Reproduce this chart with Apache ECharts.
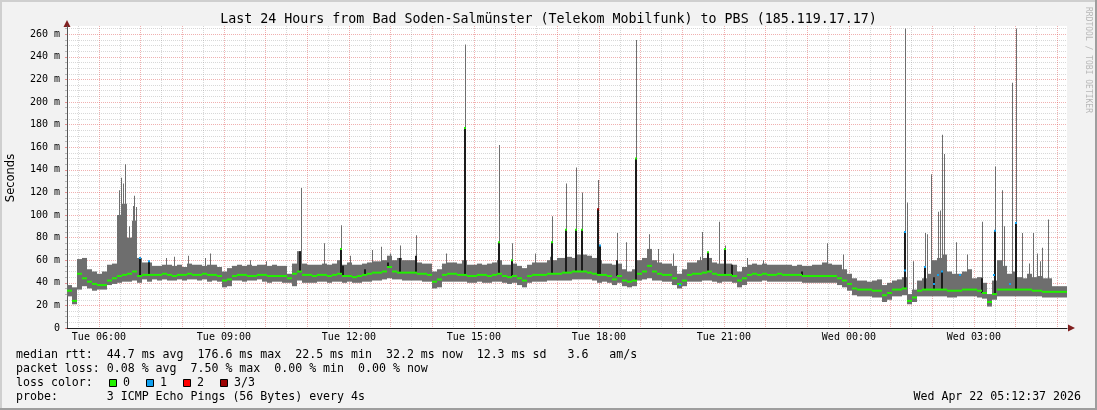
<!DOCTYPE html>
<html><head><meta charset="utf-8">
<script src="https://cdn.jsdelivr.net/npm/echarts@6/dist/echarts.min.js"></script>
<style>html,body{margin:0;padding:0;background:#f2f2f2}#c{width:1097px;height:410px}</style>
</head><body><div id="c"></div>
<script>
const chartTitle = 'Last 24 Hours from Bad Soden-Salmünster (Telekom Mobilfunk) to PBS (185.119.17.17)';
const yAxisName = 'Seconds';
const watermark = 'RRDTOOL / TOBI OETIKER';
// time is in minutes since Tue 00:00
const startMinute = 314;
const endMinute = 1754;
const stepMinutes = 7.2;
const xLabelMinutes = [360, 540, 720, 900, 1080, 1260, 1440, 1620];
const xLabels = ['Tue 06:00','Tue 09:00','Tue 12:00','Tue 15:00','Tue 18:00','Tue 21:00','Wed 00:00','Wed 03:00'];
const hourLines = [360,420,480,540,600,660,720,780,840,900,960,1020,1080,1140,1200,1260,1320,1380,1440,1500,1560,1620,1680,1740];
const halfHourLines = [330,390,450,510,570,630,690,750,810,870,930,990,1050,1110,1170,1230,1290,1350,1410,1470,1530,1590,1650,1710];
const yTickValues = [0,20,40,60,80,100,120,140,160,180,200,220,240,260];
const yTickLabels = ['0','20 m','40 m','60 m','80 m','100 m','120 m','140 m','160 m','180 m','200 m','220 m','240 m','260 m'];
const yMinorValues = [5,10,15,25,30,35,45,50,55,65,70,75,85,90,95,105,110,115,125,130,135,145,150,155,165,170,175,185,190,195,205,210,215,225,230,235,245,250,255,265];

// smoke (ms): lower edge, upper edge, median per 7.2-minute column
const smokeLow = [
28,21,34,37,35,33,34,34,38,39, 40,41,41,42,40,43,41,43,42,43,
42,42,43,42,43,43,42,43,41,42, 41,36,37,42,42,41,42,42,43,41,
40,41,41,40,40,37,42,40,40,40, 41,41,40,41,41,40,41,40,40,41,
41,42,42,43,44,43,43,42,42,42, 42,41,41,35,36,41,41,41,41,41,
40,40,41,40,40,41,41,40,39,40, 38,36,40,41,41,41,42,42,42,42,
42,43,43,43,43,42,40,41,40,38, 40,37,36,37,42,43,44,42,42,41,
41,38,35,37,41,41,41,42,42,41, 40,41,41,40,36,38,41,41,41,42,
41,41,41,41,41,41,41,40,40,40, 40,40,40,40,38,36,33,29,28,28,
28,27,27,23,25,28,28,29,21,23, 28,28,28,28,28,28,27,27,28,28,
28,28,27,26,19,25,28,28,28,28, 28,28,28,28,28,27,27,27,27,27];
const smokeHigh = [
38,36,61,62,52,50,48,50,56,57, 100,110,80,95,62,58,58,55,55,56,
56,55,56,54,57,56,56,55,56,56, 54,50,53,55,56,55,56,55,56,56,
55,56,55,55,48,57,68,57,56,56, 56,57,56,57,60,56,58,56,56,57,
58,59,59,60,64,60,62,60,60,60, 58,57,57,50,52,57,58,58,57,60,
56,56,57,56,57,58,60,56,56,57, 55,53,56,58,58,58,60,60,62,62,
63,62,65,65,64,62,60,57,57,56, 57,52,50,52,60,62,70,60,58,57,
57,55,48,52,58,58,60,62,62,58, 57,57,57,56,50,54,56,57,56,57,
56,56,56,56,56,55,56,55,55,56, 56,58,57,56,56,52,48,44,42,42,
41,42,43,38,40,42,43,45,30,34, 42,44,48,60,62,65,50,48,48,50,
52,44,45,40,30,42,60,55,48,50, 45,44,48,45,46,44,44,37,37,37];
const median = [
33,24,48,44,41,39,38,38,42,44, 46,47,48,50,46,47,47,47,47,48,
47,46,47,47,48,47,47,48,47,47, 46,42,43,46,47,47,46,46,47,47,
46,46,46,46,44,48,50,47,47,46, 47,47,46,47,48,46,46,45,46,47,
48,49,49,50,54,50,49,49,49,49, 48,48,47,41,43,47,48,48,47,47,
46,46,47,47,46,47,48,46,45,46, 44,42,46,47,47,47,48,48,48,49,
49,50,50,50,49,48,47,47,46,43, 46,42,41,42,48,50,55,50,48,47,
47,44,39,42,47,48,48,49,50,48, 47,47,47,46,42,44,47,48,47,48,
47,47,48,47,47,47,47,46,46,46, 46,46,46,46,44,42,39,35,34,34,
34,33,33,29,31,34,34,35,24,27, 33,34,34,34,34,34,33,33,33,34,
34,34,33,31,23,30,34,34,34,34, 34,34,34,33,33,32,32,32,32,32];
// thin single-column spikes: [minute, top ms]
const spikes = [[389,122],[392,133],[395,128],[398,145],[403,90],[409,108],[410,117],[413,107],[457,62],[468,63],[488,64],[513,62],[520,66],[578,60],[601,59],[651,124],[684,75],[709,91],[721,64],[753,69],[766,72],[779,66],[794,73],[817,82],[860,66],[887,251],[936,162],[955,75],[988,66],[1010,63],[1012,99],[1033,128],[1047,142],[1056,120],[1079,131],[1106,84],[1119,76],[1133,255],[1152,83],[1165,70],[1187,66],[1225,63],[1229,85],[1253,94],[1261,73],[1293,62],[1316,60],[1408,75],[1431,65],[1521,265],[1524,111],[1532,59],[1550,84],[1553,83],[1558,136],[1568,103],[1571,104],[1574,171],[1577,154],[1594,76],[1610,65],[1632,94],[1650,143],[1660,122],[1663,90],[1675,217],[1681,265],[1689,84],[1699,57],[1705,84],[1711,66],[1715,59],[1718,71],[1727,96]];
// dark inner smoke columns: [minute, top ms]
const darkBars = [[419,62],[432,59],[650,68],[709,70],[711,55],[743,52],[776,58],[794,62],[817,64],[887,177],[936,76],[955,60],[1012,76],[1033,87],[1047,87],[1056,87],[1079,105],[1082,73],[1106,60],[1133,150],[1237,67],[1261,70],[1272,56],[1372,50],[1521,85],[1550,54],[1562,45],[1574,50],[1632,44],[1650,86],[1681,93]];
// median points coloured by loss: [minute, ms, loss class]
const lossMarks = [[419,62,1],[432,59,1],[709,70,0],[887,177,0],[936,76,0],[955,60,0],[1012,76,0],[1033,87,0],[1047,87,0],[1056,87,0],[1079,105,3],[1082,73,1],[1133,150,0],[1197,38,1],[1237,67,0],[1261,70,0],[1521,85,1],[1521,51,1],[1550,54,1],[1562,39,1],[1568,47,1],[1574,50,1],[1600,47,1],[1649,47,1],[1650,86,1],[1672,39,1],[1681,93,1]];
const lossColors = ['#22f000','#10a0f0','#ff0000','#9a0000'];
const lossNames = ['0','1','2','3/3'];
const statsLines = [
  'median rtt:  44.7 ms avg  176.6 ms max  22.5 ms min  32.2 ms now  12.3 ms sd   3.6   am/s',
  'packet loss: 0.08 % avg  7.50 % max  0.00 % min  0.00 % now',
  'loss color:',
  'probe:       3 ICMP Echo Pings (56 Bytes) every 4s'
];
const stamp = 'Wed Apr 22 05:12:37 2026';

const MONO = "'DejaVu Sans Mono', monospace";
const SMOKE = '#6e6e6e', DARK = '#1c1c1c';

function medianAt(t) {
  const i = Math.max(0, Math.min(median.length - 1, Math.floor((t - startMinute) / stepMinutes)));
  return median[i];
}
const smokeData = smokeLow.map((lo, i) => [startMinute + i * stepMinutes, lo, smokeHigh[i]]);
const medianData = median.map((m, i) => [startMinute + i * stepMinutes, m]);
const spikeData = spikes.map(([t, top]) => [t, medianAt(t), top]);
const darkData = darkBars.map(([t, top]) => [t, medianAt(t), top]);

const chart = echarts.init(document.getElementById('c'), null, {renderer: 'canvas', width: 1097, height: 410});

const legendY = [355, 369, 383, 397];
const graphics = [
  {type:'rect', shape:{x:0,y:0,width:1097,height:2}, style:{fill:'#cfcfcf'}, silent:true},
  {type:'rect', shape:{x:0,y:0,width:2,height:410}, style:{fill:'#cfcfcf'}, silent:true},
  {type:'rect', shape:{x:0,y:408,width:1097,height:2}, style:{fill:'#9e9e9e'}, silent:true},
  {type:'rect', shape:{x:1095,y:0,width:2,height:410}, style:{fill:'#9e9e9e'}, silent:true},
  {type:'text', x:548.5, y:20, silent:true, style:{text:chartTitle, fill:'#000', font:"13.3px " + MONO, textAlign:'center', textVerticalAlign:'middle', align:'center', verticalAlign:'middle'}},
  {type:'text', x:11, y:178, rotation:Math.PI/2, silent:true, style:{text:yAxisName, fill:'#000', font:"11.5px 'DejaVu Sans', sans-serif", textAlign:'center', textVerticalAlign:'middle', align:'center', verticalAlign:'middle'}},
  {type:'text', x:1088, y:60, rotation:-Math.PI/2, silent:true, style:{text:watermark, fill:'#b8b8b8', font:"8px " + MONO, textAlign:'center', textVerticalAlign:'middle', align:'center', verticalAlign:'middle'}},
  {type:'polygon', shape:{points:[[63.5,27],[70.5,27],[67,20]]}, style:{fill:'#801f1f'}, silent:true},
  {type:'polygon', shape:{points:[[1068,324.5],[1068,331.5],[1075,328]]}, style:{fill:'#801f1f'}, silent:true},
  {type:'text', x:1081, y:legendY[3], silent:true, style:{text:stamp, fill:'#000', font:"11.6px " + MONO, textAlign:'right', textVerticalAlign:'middle', align:'right', verticalAlign:'middle'}}
];
statsLines.forEach((s, i) => graphics.push({type:'text', x:16, y:legendY[i], silent:true,
  style:{text:s, fill:'#000', font:"11.6px " + MONO, textAlign:'left', textVerticalAlign:'middle', align:'left', verticalAlign:'middle'}}));
const boxX = [109, 146, 183, 220];
lossNames.forEach((n, i) => {
  graphics.push({type:'rect', shape:{x:boxX[i]+0.5, y:legendY[2]-3.5, width:7, height:7}, style:{fill:lossColors[i], stroke:'#000', lineWidth:1}, silent:true});
  graphics.push({type:'text', x:boxX[i]+14, y:legendY[2], silent:true, style:{text:n, fill:'#000', font:"11.6px " + MONO, textAlign:'left', textVerticalAlign:'middle', align:'left', verticalAlign:'middle'}});
});

function rectBetween(api, t0, t1, v0, v1, fill) {
  const a = api.coord([t0, v1]);
  const b = api.coord([t1, v0]);
  return {type:'rect', shape:{x:a[0], y:a[1], width:b[0]-a[0], height:b[1]-a[1]}, style:{fill:fill}};
}

const option = {
  animation: false,
  backgroundColor: '#f2f2f2',
  grid: {left: 67, right: 30, top: 26, bottom: 82, show: true, backgroundColor: '#ffffff', borderWidth: 0},
  xAxis: [
    {type:'value', min:startMinute, max:endMinute,
     axisLine:{show:true, onZero:false, lineStyle:{color:'#1f1f1f', width:1}},
     axisTick:{show:false, customValues:hourLines},
     axisLabel:{customValues:xLabelMinutes, formatter:v => xLabels[xLabelMinutes.indexOf(v)] || '', fontFamily:MONO, fontSize:10, color:'#000', margin:4},
     splitLine:{show:true, lineStyle:{color:'rgba(222,79,79,0.45)', type:[1,1], width:1}}},
    {type:'value', min:startMinute, max:endMinute, position:'bottom',
     axisLine:{show:false}, axisLabel:{show:false},
     axisTick:{show:false, customValues:halfHourLines},
     splitLine:{show:true, lineStyle:{color:'rgba(143,143,143,0.35)', type:[1,1], width:1}}}
  ],
  yAxis: [
    {type:'value', min:0, max:267.3,
     axisLine:{show:true, lineStyle:{color:'#555', width:1}},
     axisTick:{show:true, length:2, customValues:yTickValues, lineStyle:{color:'rgba(222,79,79,0.6)'}},
     axisLabel:{customValues:yTickValues, formatter:v => yTickLabels[yTickValues.indexOf(v)], fontFamily:MONO, fontSize:10, color:'#000', margin:7},
     splitLine:{show:true, lineStyle:{color:'rgba(222,79,79,0.45)', type:[1,1], width:1}}},
    {type:'value', min:0, max:267.3, position:'left',
     axisLine:{show:false}, axisLabel:{show:false},
     axisTick:{show:true, length:2, customValues:yMinorValues, lineStyle:{color:'rgba(143,143,143,0.6)'}},
     splitLine:{show:true, lineStyle:{color:'rgba(143,143,143,0.35)', type:[1,1], width:1}}}
  ],
  graphic: {elements: graphics},
  series: [
    {type:'custom', name:'smoke', xAxisIndex:0, yAxisIndex:0, silent:true, data:smokeData,
     encode:{x:0, y:[1,2]},
     renderItem:(p, api) => rectBetween(api, api.value(0), api.value(0) + stepMinutes, api.value(1), api.value(2), SMOKE)},
    {type:'custom', name:'spikes', xAxisIndex:0, yAxisIndex:0, silent:true, data:spikeData,
     encode:{x:0, y:[1,2]},
     renderItem:(p, api) => {
       const a = api.coord([api.value(0), api.value(2)]);
       const b = api.coord([api.value(0), api.value(1)]);
       return {type:'rect', shape:{x:Math.round(a[0]), y:a[1], width:1, height:b[1]-a[1]}, style:{fill:SMOKE}};
     }},
    {type:'custom', name:'dark', xAxisIndex:0, yAxisIndex:0, silent:true, data:darkData,
     encode:{x:0, y:[1,2]},
     renderItem:(p, api) => {
       const a = api.coord([api.value(0), api.value(2)]);
       const b = api.coord([api.value(0), api.value(1)]);
       return {type:'rect', shape:{x:Math.round(a[0]) - 1, y:a[1], width:2, height:b[1]-a[1]}, style:{fill:DARK}};
     }},
    {type:'custom', name:'median', xAxisIndex:0, yAxisIndex:0, silent:true, data:medianData,
     encode:{x:0, y:1},
     renderItem:(p, api) => {
       const a = api.coord([api.value(0), api.value(1)]);
       const b = api.coord([api.value(0) + stepMinutes, api.value(1)]);
       return {type:'rect', shape:{x:a[0], y:a[1] - 1, width:b[0]-a[0], height:2}, style:{fill:lossColors[0]}};
     }},
    {type:'custom', name:'loss', xAxisIndex:0, yAxisIndex:0, silent:true, data:lossMarks,
     encode:{x:0, y:1},
     renderItem:(p, api) => {
       const a = api.coord([api.value(0), api.value(1)]);
       return {type:'rect', shape:{x:Math.round(a[0]) - 1, y:a[1] - 1, width:2, height:2}, style:{fill:lossColors[api.value(2)]}};
     }}
  ]
};
chart.setOption(option);
</script>
</body></html>
